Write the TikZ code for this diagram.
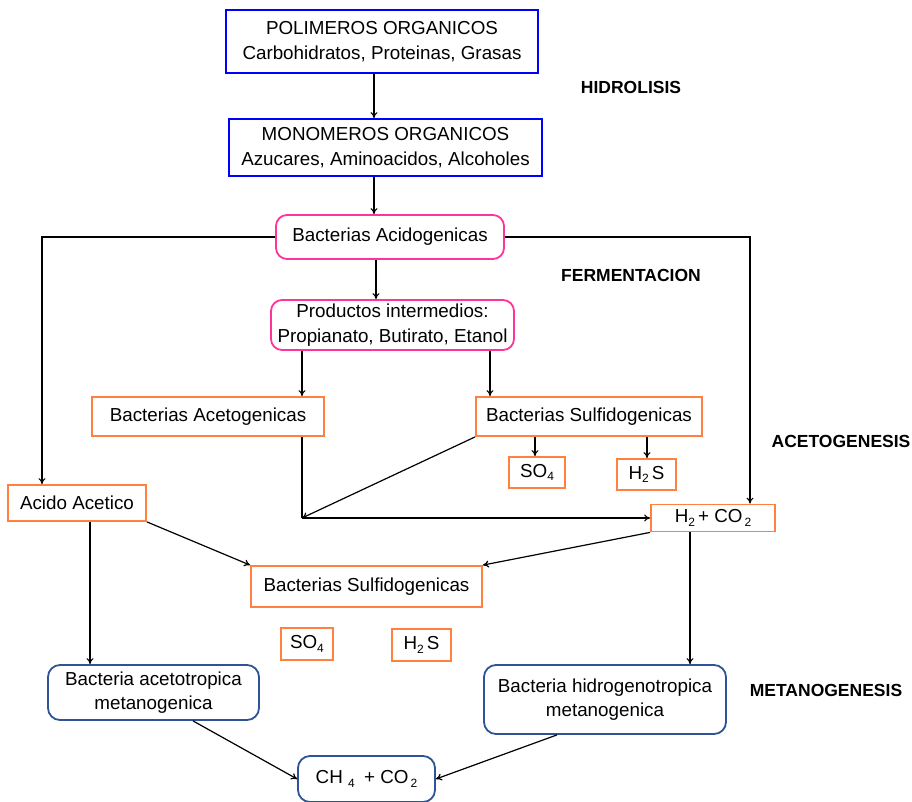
\documentclass[tikz,border=0pt]{standalone}
\usepackage{fontspec}
\setmainfont{Liberation Sans}
\usetikzlibrary{arrows.meta,calc}
\definecolor{bblue}{RGB}{0,0,255}
\definecolor{mag}{RGB}{255,51,153}
\definecolor{oran}{RGB}{255,128,64}
\definecolor{sblue}{RGB}{46,84,150}
\newcommand{\sbx}[1]{\raisebox{-0.35ex}{\fontsize{12}{12}\selectfont #1}}
\tikzset{
  box/.style={draw, line width=1.8pt, inner sep=0pt, align=center, font=\fontsize{18.8}{24.5}\selectfont},
  bluebox/.style={box, draw=bblue},
  magbox/.style={box, draw=mag, rounded corners=11pt},
  orbox/.style={box, draw=oran},
  metbox/.style={box, draw=sblue, rounded corners=12pt},
  arr/.style={line width=1.2pt, -{To[length=6pt,width=7pt]}},
  ln/.style={line width=1.2pt},
  stage/.style={font=\fontsize{17.5}{20}\selectfont\bfseries}
}
\begin{document}
\begin{tikzpicture}[x=1pt,y=-1pt]
\useasboundingbox[fill=white] (0,0) rectangle (912,802);
% nodes
\node[bluebox, minimum width=312, minimum height=63] (pol) at (382,41.5) {POLIMEROS ORGANICOS\\Carbohidratos, Proteinas, Grasas};
\node[bluebox, minimum width=313, minimum height=57] (mon) at (385.5,147.5) {MONOMEROS ORGANICOS\\Azucares, Aminoacidos, Alcoholes};
\node[magbox, minimum width=228, minimum height=44] (acid) at (390,237) {Bacterias Acidogenicas};
\node[magbox, minimum width=243, minimum height=50] (prod) at (392.5,325) {Productos intermedios:\\Propianato, Butirato, Etanol};
\node[orbox, minimum width=232, minimum height=39] (aceto) at (208,416.5) {Bacterias Acetogenicas};
\node[orbox, minimum width=226, minimum height=39] (sulfa) at (589,416.5) {Bacterias Sulfidogenicas};
\node[orbox, minimum width=56, minimum height=31] (so4a) at (537,472.5) {SO\sbx{4}};
\node[orbox, minimum width=59, minimum height=31] (h2sa) at (646.5,474.5) {H\sbx{2}\,S};
\node[orbox, minimum width=138, minimum height=36] (acet) at (77,503) {Acido Acetico};
\node[orbox, minimum width=124, minimum height=27] (h2co2) at (713,518) {H\sbx{2}\,+ CO\sbx{\,2}};
\node[orbox, minimum width=231, minimum height=41] (sulfb) at (366.5,586.5) {Bacterias Sulfidogenicas};
\node[orbox, minimum width=52, minimum height=32] (so4b) at (307,644) {SO\sbx{4}};
\node[orbox, minimum width=59, minimum height=32] (h2sb) at (421.5,645) {H\sbx{2}\,S};
\node[metbox, minimum width=211, minimum height=55] (meta) at (153.5,692.5) {Bacteria acetotropica\\metanogenica};
\node[metbox, minimum width=242, minimum height=69] (meth) at (605,699.5) {Bacteria hidrogenotropica\\metanogenica};
\node[metbox, minimum width=137, minimum height=46] (ch4) at (366.5,779) {CH \sbx{4}\enspace + CO\sbx{\,2}};
% stage labels
\node[stage] (l1) at (631,87) {HIDROLISIS};
\node[stage] (l2) at (631,275) {FERMENTACION};
\node[stage] (l3) at (841,441) {ACETOGENESIS};
\node[stage] (l4) at (826,690) {METANOGENESIS};
% helper coordinates
\coordinate (x374) at (374,0);
\coordinate (x376) at (376,0);
\coordinate (x302) at (302,0);
\coordinate (x490) at (490,0);
\coordinate (x535) at (535,0);
\coordinate (x647) at (647,0);
\coordinate (x42) at (42,0);
\coordinate (x750) at (750,0);
\coordinate (x90) at (90,0);
\coordinate (x690) at (690,0);
\coordinate (j) at (302,518);
\coordinate (pa) at (193,720);
\coordinate (pb) at (557,734);
% connectors
\draw[arr] (pol.south -| x374) -- (mon.north -| x374);
\draw[arr] (mon.south -| x374) -- (acid.north -| x374);
\draw[arr] (acid.west) -| (acet.north -| x42);
\draw[arr] (acid.east) -| (h2co2.north -| x750);
\draw[arr] (acid.south -| x376) -- (prod.north -| x376);
\draw[arr] (prod.south -| x302) -- (aceto.north -| x302);
\draw[arr] (prod.south -| x490) -- (sulfa.north -| x490);
\draw[arr] (sulfa.south -| x535) -- (so4a.north -| x535);
\draw[arr] (sulfa.south -| x647) -- (h2sa.north -| x647);
\draw[ln] (aceto.south -| x302) -- (j);
\draw[arr] (j) -- (h2co2.west);
\draw[arr] (sulfa.south west) -- (j);
\draw[arr] (acet.south east) -- (sulfb.north west);
\draw[arr] (h2co2.south west) -- (sulfb.north east);
\draw[arr] (acet.south -| x90) -- (meta.north -| x90);
\draw[arr] (h2co2.south -| x690) -- (meth.north -| x690);
\draw[arr] (meta.south -| pa) -- (ch4.west);
\draw[arr] (meth.south -| pb) -- (ch4.east);
\end{tikzpicture}
\end{document}
